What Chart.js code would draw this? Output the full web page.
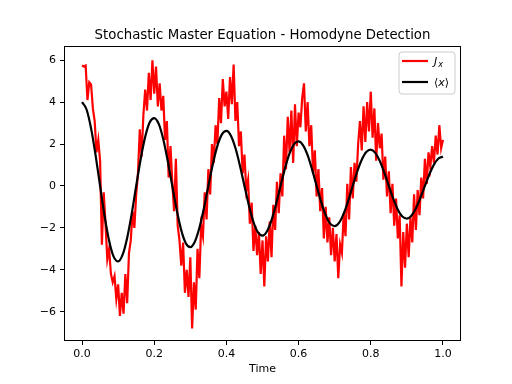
<!DOCTYPE html>
<html>
<head>
<meta charset="utf-8">
<script src="https://cdn.jsdelivr.net/npm/chart.js@4.4.1/dist/chart.umd.min.js"></script>
<style>
html,body{margin:0;padding:0;background:#fff;}
#wrap{width:512px;height:384px;position:relative;}
</style>
</head>
<body>
<div id="wrap"><canvas id="c" width="512" height="384"></canvas></div>
<script>
// ---- data ----
const chartTitle = "Stochastic Master Equation - Homodyne Detection";
const xAxisLabel = "Time";
const xTicks = [0.0, 0.2, 0.4, 0.6, 0.8, 1.0];
const yTicks = [-6, -4, -2, 0, 2, 4, 6];
const xRange = [-0.05, 1.05];
const yRange = [-7.4, 6.68];

// <x> expectation value, sampled every 0.0125 in time
const meanStep = 0.0125;
const meanX = [4.00, 3.65, 2.75, 1.47, 0.00, -1.44, -2.61, -3.37, -3.60, -3.28,
  -2.48, -1.33, 0.00, 1.29, 2.35, 3.04, 3.24, 2.96, 2.23, 1.19,
  0.00, -1.16, -2.12, -2.73, -2.92, -2.66, -2.01, -1.08, 0.00, 1.05,
  1.91, 2.46, 2.63, 2.40, 1.81, 0.97, 0.00, -0.94, -1.72, -2.22,
  -2.37, -2.16, -1.63, -0.87, 0.00, 0.85, 1.55, 2.00, 2.13, 1.94,
  1.47, 0.78, 0.00, -0.76, -1.39, -1.80, -1.92, -1.75, -1.32, -0.71,
  0.00, 0.69, 1.25, 1.62, 1.73, 1.58, 1.19, 0.64, 0.00, -0.62,
  -1.13, -1.46, -1.56, -1.42, -1.07, -0.57, 0.00, 0.56, 1.02, 1.31, 1.40];

// J_x measurement current, sampled every 0.005 in time
const jxStep = 0.005;
const jx = [5.75, 5.70, 5.75, 4.10, 4.95, 4.85, 3.70, 3.10, 1.60, 2.20,
  1.20, -2.80, -0.30, -1.80, -3.50, -3.00, -4.20, -4.60, -4.30, -5.40,
  -4.70, -6.20, -5.10, -6.10, -4.20, -5.60, -3.20, -2.60, -1.20, -2.00,
  -0.40, 0.60, 2.70, 1.40, 3.40, 4.60, 3.60, 5.40, 4.10, 6.00,
  4.40, 5.70, 3.80, 4.90, 3.60, 4.30, 2.20, 3.10, 0.40, 1.90,
  0.20, -1.20, 1.30, -1.90, -2.60, -3.80, -2.70, -5.10, -4.00, -5.30,
  -3.40, -6.80, -4.60, -5.90, -3.00, -4.40, -1.90, -2.40, -0.30, -1.60,
  0.80, -0.40, 2.00, 1.10, 2.90, 2.00, 4.20, 3.00, 5.10, 3.80,
  4.50, 3.20, 5.20, 3.90, 5.80, 3.10, 4.00, 1.90, 2.60, 0.60,
  1.50, -0.20, 0.30, -1.80, -0.80, -3.10, -1.90, -3.30, -2.20, -4.20,
  -2.60, -4.80, -2.40, -3.60, -1.70, -3.40, -0.90, -2.10, 0.20, -1.30,
  0.60, -0.50, 2.40, 0.80, 3.30, 1.60, 3.60, 1.10, 3.90, 1.90,
  3.50, 2.80, 4.20, 4.90, 2.60, 4.00, 1.90, 2.90, 0.60, 1.70,
  -0.50, 0.80, -1.20, -0.10, -2.50, -1.00, -2.70, -1.50, -3.30, -2.00,
  -3.60, -2.30, -4.40, -2.80, -3.20, -1.30, -2.40, 0.10, -1.60, 0.90,
  -0.60, 1.10, 0.20, 2.00, 3.10, 1.70, 3.80, 2.10, 4.00, 2.60,
  4.50, 2.30, 3.70, 1.20, 3.00, 1.80, 2.50, 0.30, 1.40, -0.50,
  0.70, -1.30, 0.10, -1.90, -0.60, -2.50, -1.40, -4.80, -2.20, -3.90,
  -1.80, -3.40, -1.50, -2.70, -0.40, -2.10, -0.20, -1.40, 0.40, -0.60,
  1.30, 0.10, 1.60, 0.90, 1.90, 1.10, 2.40, 1.50, 2.90, 1.80, 2.20];

const jxLabel = "J_x";
const meanLabel = "<x>";
const jxColor = "#ff0000";
const meanColor = "#000000";

// ---- build chart ----
const jxPoints = jx.map((v, i) => ({x: +(i * jxStep).toFixed(4), y: v}));
const meanPoints = meanX.map((v, i) => ({x: +(i * meanStep).toFixed(4), y: v}));

const FONT = "'DejaVu Sans', sans-serif";
const fmtNum = (v, d) => {
  const s = Math.abs(v).toFixed(d);
  return (v < 0 ? "\u2212" : "") + s;
};

const decor = {
  id: 'decor',
  afterDraw(chart) {
    const ctx = chart.ctx, a = chart.chartArea;
    ctx.save();
    // frame
    ctx.strokeStyle = '#000';
    ctx.lineWidth = 1;
    ctx.strokeRect(Math.round(a.left) + 0.5, Math.round(a.top) + 0.5,
                   Math.round(a.right - a.left) - 1, Math.round(a.bottom - a.top) - 1);
    // title
    ctx.fillStyle = '#000';
    ctx.textAlign = 'center';
    ctx.textBaseline = 'alphabetic';
    ctx.font = "13.3px " + FONT;
    ctx.fillText(chartTitle, (a.left + a.right) / 2, 38.5);
    // x label
    ctx.font = "11px " + FONT;
    ctx.fillText(xAxisLabel, (a.left + a.right) / 2, 372);
    // legend
    const bx = a.right - 62, by = a.top + 6, bw = 56, bh = 42, r = 3;
    ctx.beginPath();
    ctx.moveTo(bx + r, by);
    ctx.lineTo(bx + bw - r, by); ctx.quadraticCurveTo(bx + bw, by, bx + bw, by + r);
    ctx.lineTo(bx + bw, by + bh - r); ctx.quadraticCurveTo(bx + bw, by + bh, bx + bw - r, by + bh);
    ctx.lineTo(bx + r, by + bh); ctx.quadraticCurveTo(bx, by + bh, bx, by + bh - r);
    ctx.lineTo(bx, by + r); ctx.quadraticCurveTo(bx, by, bx + r, by);
    ctx.closePath();
    ctx.fillStyle = 'rgba(255,255,255,0.8)';
    ctx.fill();
    ctx.strokeStyle = '#cccccc';
    ctx.lineWidth = 1;
    ctx.stroke();
    const ds = chart.data.datasets;
    const rows = [ds.find(d => d.label === jxLabel), ds.find(d => d.label === meanLabel)];
    rows.forEach((d, k) => {
      const ly = by + 9 + k * 21;
      ctx.strokeStyle = d.borderColor;
      ctx.lineWidth = 2.2;
      ctx.beginPath();
      ctx.moveTo(bx + 3, ly); ctx.lineTo(bx + 29, ly);
      ctx.stroke();
      ctx.fillStyle = '#000';
      ctx.textAlign = 'left';
      ctx.textBaseline = 'alphabetic';
      const tx = bx + 35, ty = ly + 4;
      if (d.label === jxLabel) {
        ctx.font = "italic 11px " + FONT;
        ctx.fillText("J", tx, ty);
        const w = ctx.measureText("J").width;
        ctx.font = "italic 8px " + FONT;
        ctx.fillText("x", tx + w + 1, ty + 2);
      } else {
        ctx.font = "11px " + FONT;
        ctx.fillText("\u27E8", tx, ty);
        let w = ctx.measureText("\u27E8").width;
        ctx.font = "italic 11px " + FONT;
        ctx.fillText("x", tx + w, ty);
        w += ctx.measureText("x").width;
        ctx.font = "11px " + FONT;
        ctx.fillText("\u27E9", tx + w, ty);
      }
    });
    ctx.restore();
  }
};

new Chart(document.getElementById('c'), {
  type: 'line',
  data: {
    datasets: [
      {label: jxLabel, data: jxPoints, borderColor: jxColor, borderWidth: 2.2,
       pointRadius: 0, tension: 0, order: 1, fill: false},
      {label: meanLabel, data: meanPoints, borderColor: meanColor, borderWidth: 2.2,
       pointRadius: 0, cubicInterpolationMode: 'monotone', order: 0, fill: false}
    ]
  },
  options: {
    responsive: false,
    animation: false,
    events: [],
    layout: {padding: {left: 0, right: 51, top: 46, bottom: 0}},
    plugins: {legend: {display: false}, title: {display: false}, tooltip: {enabled: false}},
    scales: {
      x: {
        type: 'linear', min: xRange[0], max: xRange[1],
        afterFit(s) { s.height = 43; },
        afterBuildTicks(s) { s.ticks = xTicks.map(v => ({value: v})); },
        grid: {display: true, drawOnChartArea: false, drawTicks: true, tickLength: 4, color: '#000', lineWidth: 1},
        border: {display: false},
        ticks: {color: '#000', font: {family: FONT, size: 11}, padding: 3, maxRotation: 0,
                callback: v => fmtNum(v, 1)}
      },
      y: {
        type: 'linear', min: yRange[0], max: yRange[1],
        afterFit(s) { s.width = 64; },
        afterBuildTicks(s) { s.ticks = yTicks.map(v => ({value: v})); },
        grid: {display: true, drawOnChartArea: false, drawTicks: true, tickLength: 4, color: '#000', lineWidth: 1},
        border: {display: false},
        ticks: {color: '#000', font: {family: FONT, size: 11}, padding: 4,
                callback: v => fmtNum(v, 0)}
      }
    }
  },
  plugins: [decor]
});
</script>
</body>
</html>
